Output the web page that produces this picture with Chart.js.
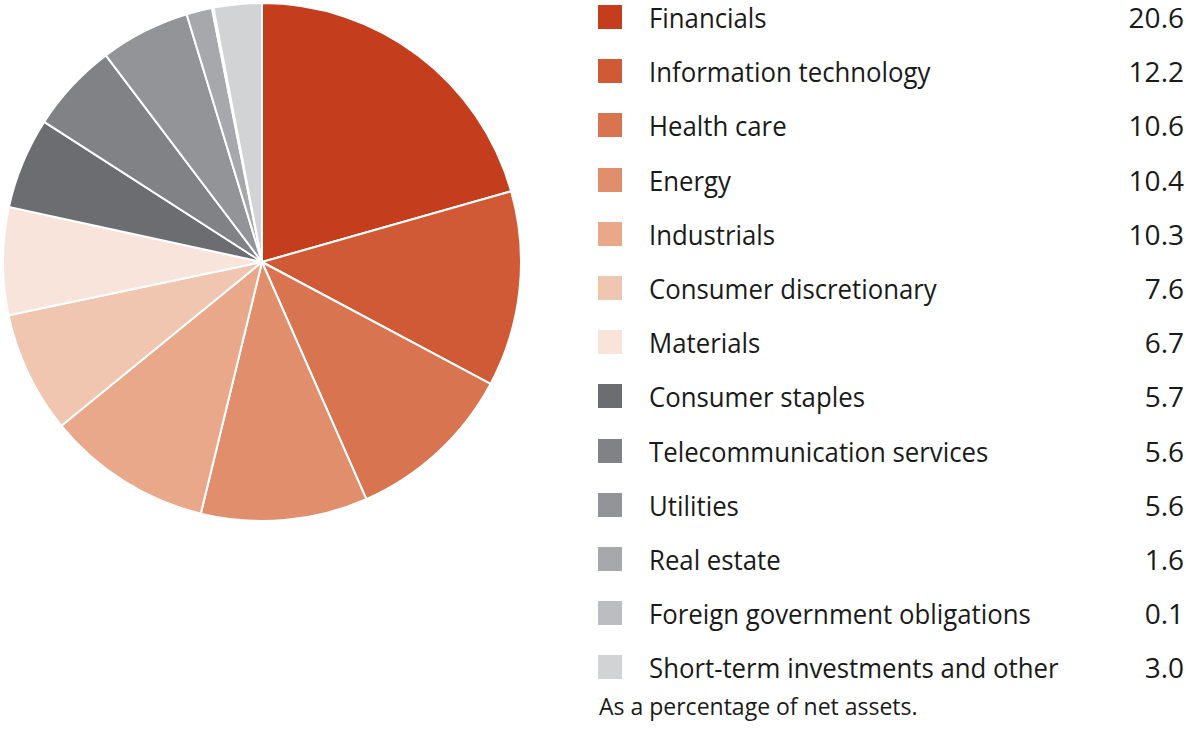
<!DOCTYPE html>
<html>
<head>
<meta charset="utf-8">
<script src="https://cdn.jsdelivr.net/npm/chart.js@4.4.0/dist/chart.umd.min.js"></script>
<style>
  body { margin: 0; background: #fff; font-family: "Open Sans", sans-serif; color: #1a1a1a; }
  #wrap { position: relative; width: 1186px; height: 749px; }
  #pieBox { position: absolute; left: 0; top: 0; width: 524px; height: 524px; }
  #legend { position: absolute; left: 598px; top: 0; width: 588px; }
  .row { position: absolute; left: 0; width: 588px; height: 30px; font-size: 28px; }
  .sw { position: absolute; left: 0; top: 3px; width: 24px; height: 24px; }
  .lbl { position: absolute; left: 51px; top: 0; line-height: 30px; white-space: nowrap;
         transform: scaleX(0.92); transform-origin: left center; }
  .val { position: absolute; right: 2px; top: 0; line-height: 30px; }
  #note { position: absolute; left: 599px; top: 690px; font-size: 23px; }
</style>
</head>
<body>
<div id="wrap">
  <div id="pieBox"><canvas id="pieChart"></canvas></div>
  <div id="legend"></div>
  <div id="note">As a percentage of net assets.</div>
</div>
<script>
var sectors = ["Financials", "Information technology", "Health care", "Energy", "Industrials",
  "Consumer discretionary", "Materials", "Consumer staples", "Telecommunication services",
  "Utilities", "Real estate", "Foreign government obligations", "Short-term investments and other"];
var weights = [20.6, 12.2, 10.6, 10.4, 10.3, 7.6, 6.7, 5.7, 5.6, 5.6, 1.6, 0.1, 3.0];
var colours = ["#C43E1E", "#D05A35", "#D8744F", "#E08E6C", "#E9A88A", "#F1C6B0", "#F8E4DA",
  "#6C6D71", "#818286", "#939498", "#A7A8AB", "#BCBDC0", "#D2D3D5"];

// legend on the right
var legend = document.getElementById("legend");
sectors.forEach(function(name, i) {
  var row = document.createElement("div");
  row.className = "row";
  row.style.top = (2 + i * 54.2) + "px";
  row.innerHTML = '<div class="sw" style="background:' + colours[i] + '"></div>' +
    '<div class="lbl">' + name + '</div><div class="val">' + weights[i].toFixed(1) + '</div>';
  legend.appendChild(row);
});

var ctx = document.getElementById("pieChart").getContext("2d");
var pie = new Chart(ctx, {
  type: "pie",
  data: {
    labels: sectors,
    datasets: [{
      data: weights,
      backgroundColor: colours,
      borderColor: "#ffffff",
      borderWidth: 2
    }]
  },
  options: {
    responsive: true,
    maintainAspectRatio: false,
    animation: false,
    layout: { padding: 2 },
    plugins: { legend: { display: false }, tooltip: { enabled: false } }
  }
});
</script>
</body>
</html>
